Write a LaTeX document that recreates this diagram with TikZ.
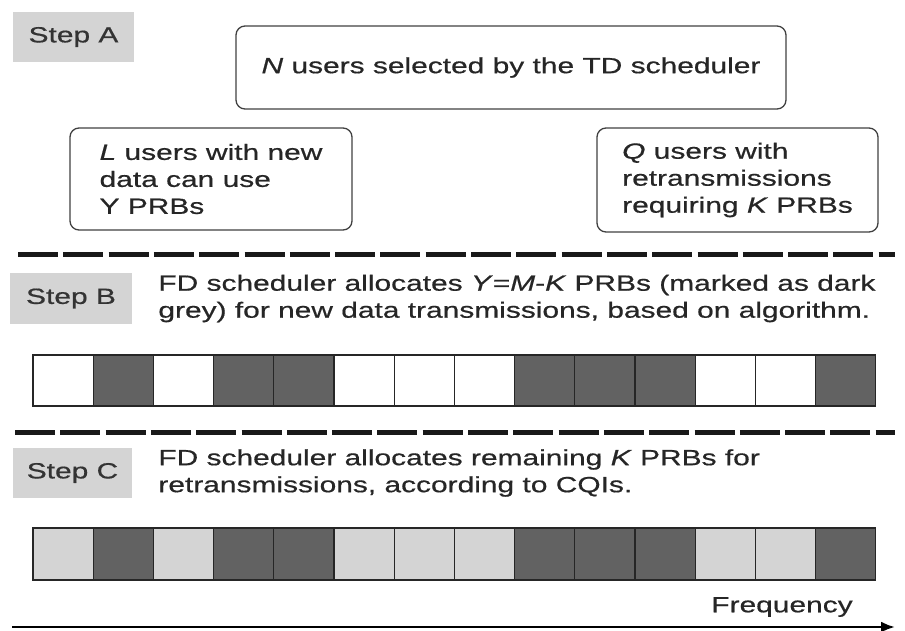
\documentclass[tikz,border=0pt]{standalone}
\usepackage{fontspec}
\setmainfont{Liberation Sans}[FakeStretch=1.36, FakeBold=0.6]
\usetikzlibrary{positioning, arrows.meta}
\definecolor{stepgrey}{RGB}{212,212,212}
\definecolor{darkprb}{RGB}{98,98,98}
\definecolor{lightprb}{RGB}{212,212,212}

\begin{document}
\begin{tikzpicture}[x=1pt, y=-1pt, >=latex, font=\fontsize{22}{27}\selectfont]

        % Define block styles
        \tikzstyle{stepbox} = [rectangle, fill=stepgrey, text=black!80, minimum width=121pt, minimum height=50pt, inner sep=0pt]
        \tikzstyle{userbox} = [rectangle, draw=black!75, line width=1.3pt, rounded corners=9pt, align=left, inner sep=0pt, text=black!85]
        \tikzstyle{note} = [align=left, inner sep=0pt, text=black!85]
        \tikzstyle{prb} = [rectangle, draw=black!85, line width=1.3pt, minimum width=60.2pt, minimum height=51pt, inner sep=0pt]
        \tikzstyle{divider} = [line width=5pt, dash pattern=on 40pt off 5.3pt, black!90]
        \tikzstyle{arrow} = [line width=2.5pt, -{Latex[length=14pt,width=11pt]}]

        \useasboundingbox (0,0) rectangle (905,630);

        % Step A
        \node (stepA) [stepbox] at (73.5,37) {Step A};
        \node (tdsel) [userbox, minimum width=550pt, minimum height=83pt] at (511,67.5) {\textit{N} users selected by the TD scheduler};
        \node (newdata) [userbox, minimum width=282pt, minimum height=102pt] at (211,179) {\textit{L} users with new\\data can use\\Y PRBs};
        \node (retx) [userbox, minimum width=281pt, minimum height=104pt] at (737.5,180) {\textit{Q} users with\\retransmissions\\requiring \textit{K} PRBs};

        \draw [divider] (18,254) -- (895,254);

        % Step B
        \node (stepB) [stepbox, minimum width=122pt, minimum height=51pt] at (71,298.5) {Step B};
        \node (textB) [note, right=26pt of stepB] {FD scheduler allocates \textit{Y}=\textit{M}-\textit{K} PRBs (marked as dark\\grey) for new data transmissions, based on algorithm.};
        \foreach \c [count=\i] in {white,darkprb,white,darkprb,darkprb,white,white,white,darkprb,darkprb,darkprb,white,white,darkprb}
          \node (prbB\i) [prb, fill=\c] at ({33+60.2*(\i-0.5)},380.5) {};

        \draw [divider] (15,432) -- (895,432);

        % Step C
        \node (stepC) [stepbox, minimum width=119pt] at (72.5,473) {Step C};
        \node (textC) [note, right=26pt of stepC] {FD scheduler allocates remaining \textit{K} PRBs for\\retransmissions, according to CQIs.};
        \foreach \c [count=\i] in {lightprb,darkprb,lightprb,darkprb,darkprb,lightprb,lightprb,lightprb,darkprb,darkprb,darkprb,lightprb,lightprb,darkprb}
          \node (prbC\i) [prb, fill=\c, minimum height=52pt] at ({33+60.2*(\i-0.5)},554) {};

        % Frequency axis
        \node (freq) [note] at (782,607) {Frequency};
        \coordinate (fstart) at (12,627);
        \coordinate (fend) at (895,627);
        \draw [arrow] (fstart) -- (fend);

\end{tikzpicture}
\end{document}
